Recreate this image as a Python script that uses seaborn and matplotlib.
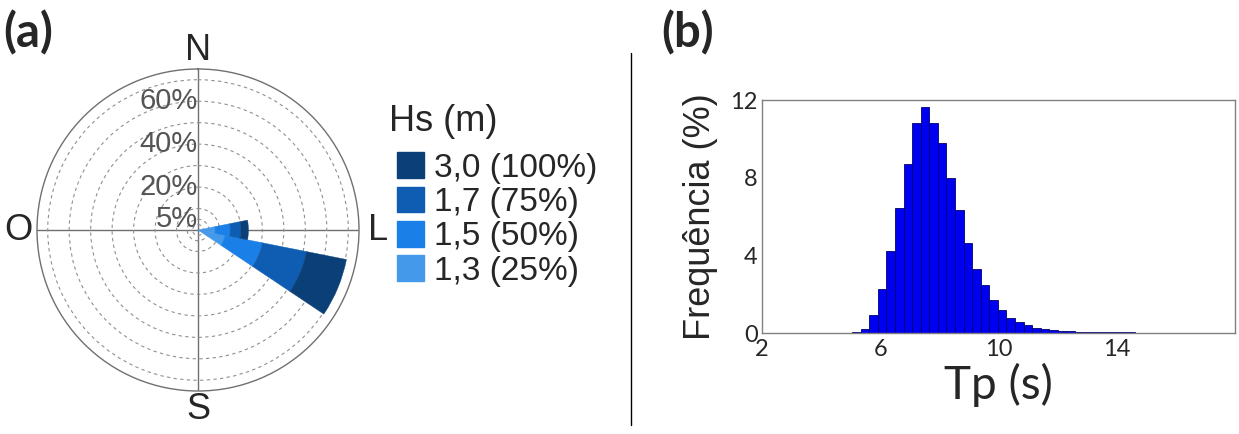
import numpy as np
import matplotlib
matplotlib.use("Agg")
import matplotlib.pyplot as plt
from matplotlib.patches import Patch
from matplotlib.lines import Line2D
import seaborn as sns

# Rose data (Hs classes stacked per direction sector)
directions = ["L", "ESE"]
dir_deg = [90.0, 112.5]
sector_width = 22.5
hs_labels = ["1,3 (25%)", "1,5 (50%)", "1,7 (75%)", "3,0 (100%)"]
hs_colors = ["#4599ea", "#1a7fe6", "#0f5db2", "#0b3f78"]
freq_E = [8.0, 7.0, 5.0, 3.5]
freq_ESE = [12.8, 17.7, 21.0, 19.0]
ring_values = [2.5, 5, 10, 20, 30, 40, 50, 60, 70]
ring_labels = {5: "5%", 20: "20%", 40: "40%", 60: "60%"}
compass = ["N", "L", "S", "O"]

# Tp histogram (frequency in % per bin)
tp_edges = [5.05, 5.34, 5.63, 5.92, 6.21, 6.50, 6.79, 7.08, 7.37, 7.66, 7.95,
            8.24, 8.53, 8.82, 9.11, 9.40, 9.69, 9.98, 10.27, 10.56, 10.85,
            11.14, 11.43, 11.72, 12.01, 12.30, 12.59, 12.88, 13.17, 13.46,
            13.75, 14.04, 14.33, 14.62]
tp_freq = [0.05, 0.20, 0.91, 2.29, 4.21, 6.44, 8.69, 10.79, 11.62, 10.79,
           9.76, 8.00, 6.32, 4.64, 3.28, 2.46, 1.72, 1.20, 0.79, 0.57, 0.40,
           0.28, 0.20, 0.15, 0.11, 0.09, 0.07, 0.06, 0.05, 0.04, 0.04, 0.03,
           0.03]

sns.set_style("white")
plt.rcParams["font.family"] = ["Liberation Sans", "DejaVu Sans"]

W, H = 1239, 434
fig = plt.figure(figsize=(W / 100, H / 100), dpi=100)

# ---- (a) wave rose
ax1 = fig.add_axes([37 / W, (H - 391) / H, 322 / W, 322 / H], projection="polar")
ax1.set_theta_zero_location("N")
ax1.set_theta_direction(-1)
ax1.set_ylim(0, 75)

theta = np.deg2rad(dir_deg)
width = np.deg2rad(sector_width)
seg_table = np.array([freq_E, freq_ESE])
bottom = np.zeros(len(directions))
for i, (lab, col) in enumerate(zip(hs_labels, hs_colors)):
    ax1.bar(theta, seg_table[:, i], width=width, bottom=bottom, color=col,
            edgecolor=col, linewidth=0.3, zorder=3)
    bottom += seg_table[:, i]

ax1.set_yticks(ring_values)
ax1.set_yticklabels([])
ax1.yaxis.grid(True, linestyle=(0, (3, 3)), color="#909090", linewidth=0.8)
ax1.set_xticks(np.deg2rad([0, 90, 180, 270]))
ax1.set_xticklabels(compass, fontsize=26)
ax1.xaxis.grid(True, linestyle="-", color="#707070", linewidth=1.0)
ax1.tick_params(axis="x", pad=3)
ax1.spines["polar"].set_color("#707070")
ax1.spines["polar"].set_linewidth(1.0)
for v, txt in ring_labels.items():
    ax1.text(0, v, txt, ha="right", va="center", fontsize=21, color="#555555",
             zorder=4)

# legend (title as its own text so the gap matches)
fig.text(389 / W, 1 - 121 / H, "Hs (m)", fontsize=26, va="center", ha="left")
handles = [Patch(facecolor=c, edgecolor=c) for c in hs_colors][::-1]
leg = fig.legend(handles, hs_labels[::-1], loc="upper left",
                 bbox_to_anchor=(384 / W, 1 - 139 / H), frameon=False,
                 fontsize=24, handlelength=0.8, handleheight=0.8,
                 handletextpad=0.3, labelspacing=0.09, borderaxespad=0)

# ---- (b) Tp histogram
ax2 = fig.add_axes([762 / W, (H - 333) / H, 473 / W, 233 / H])
centers = [(a + b) / 2 for a, b in zip(tp_edges[:-1], tp_edges[1:])]
sns.histplot(x=centers, weights=tp_freq, bins=tp_edges, ax=ax2,
             color="#0000f0", edgecolor="#00006e", linewidth=0.6, alpha=1)
ax2.set_xlim(2, 18)
ax2.set_ylim(0, 12)
ax2.set_xticks([2, 6, 10, 14])
ax2.set_yticks([0, 4, 8, 12])
for lab in ax2.get_xticklabels() + ax2.get_yticklabels():
    lab.set_family("Lato")
    lab.set_fontsize(17)
ax2.tick_params(axis="x", length=0, pad=4)
ax2.tick_params(axis="y", length=0, pad=3)
for s in ax2.spines.values():
    s.set_color("#808080")
    s.set_linewidth(1.0)
ax2.set_xlabel("Tp (s)", fontsize=33, family="Lato", labelpad=2)
ax2.set_ylabel("Frequência (%)", fontsize=26, labelpad=9)

# panel labels and divider
fig.text(3 / W, 1 - 33 / H, "(a)", fontsize=34, fontweight="bold",
         family="Lato", va="center", ha="left")
fig.text(661 / W, 1 - 33 / H, "(b)", fontsize=34, fontweight="bold",
         family="Lato", va="center", ha="left")
fig.add_artist(Line2D([631 / W, 631 / W], [1 - 425 / H, 1 - 53 / H],
                      color="black", linewidth=1.0))

fig.savefig("out.png", dpi=100)
